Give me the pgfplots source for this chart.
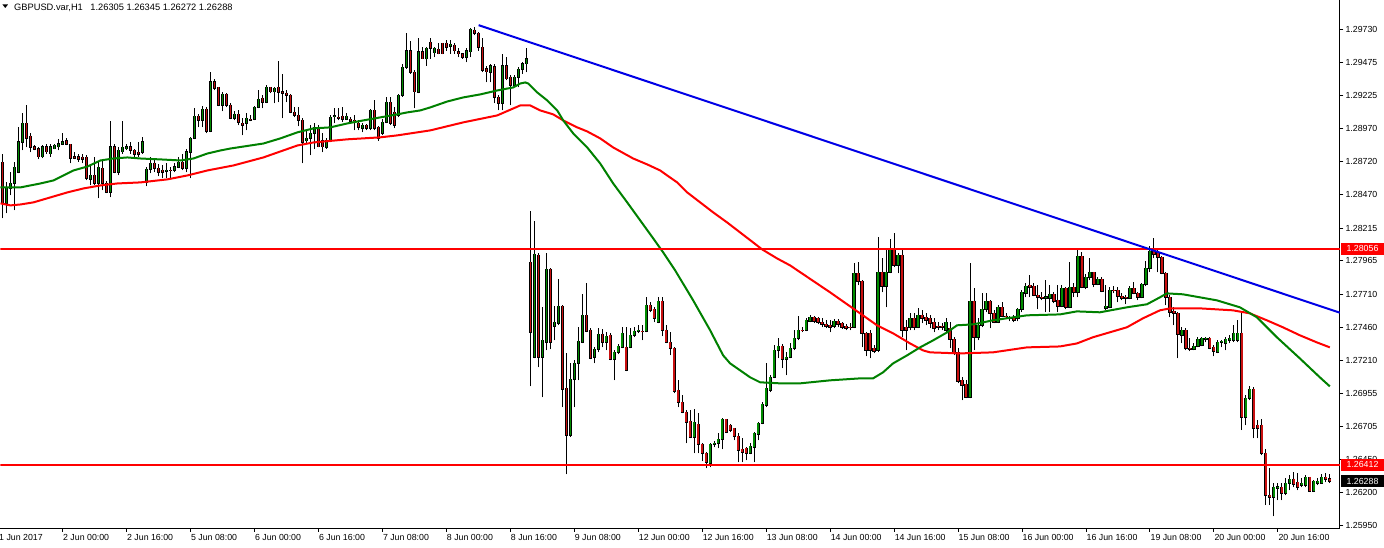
\documentclass[border=0pt]{standalone}
\usepackage{pgfplots}
\pgfplotsset{compat=1.18}
\usepackage{pgfplotstable}
\usepackage{fontspec}
\setmainfont{Liberation Sans}
\definecolor{bull}{RGB}{0,140,0}
\definecolor{bear}{RGB}{200,16,16}
\definecolor{magreen}{RGB}{0,128,0}
\definecolor{mared}{RGB}{255,0,0}
\definecolor{tline}{RGB}{0,0,230}

\pgfplotstableread{
i o h l c
0 1.28714 1.28782 1.28288 1.28402
1 1.28402 1.28562 1.28326 1.28516
2 1.28516 1.28638 1.28463 1.28554
3 1.28554 1.28714 1.28349 1.28676
4 1.28638 1.28981 1.28630 1.28873
5 1.28866 1.29087 1.28805 1.29011
6 1.29011 1.29148 1.28828 1.28897
7 1.28912 1.28935 1.28790 1.28828
8 1.28835 1.28843 1.28805 1.28813
9 1.28820 1.28828 1.28737 1.28759
10 1.28759 1.28843 1.28744 1.28835
11 1.28835 1.28851 1.28782 1.28797
12 1.28782 1.28858 1.28759 1.28835
13 1.28820 1.28851 1.28813 1.28843
14 1.28835 1.28890 1.28805 1.28858
15 1.28851 1.28935 1.28845 1.28873
16 1.28881 1.28897 1.28843 1.28851
17 1.28851 1.28858 1.28706 1.28744
18 1.28759 1.28790 1.28737 1.28744
19 1.28759 1.28782 1.28721 1.28737
20 1.28752 1.28782 1.28706 1.28737
21 1.28752 1.28767 1.28577 1.28592
22 1.28585 1.28691 1.28539 1.28615
23 1.28615 1.28752 1.28539 1.28554
24 1.28554 1.28714 1.28440 1.28676
25 1.28668 1.28729 1.28501 1.28554
26 1.28554 1.28569 1.28478 1.28486
27 1.28486 1.29026 1.28448 1.28835
28 1.28835 1.28851 1.28630 1.28638
29 1.28638 1.28828 1.28615 1.28805
30 1.28797 1.29026 1.28782 1.28828
31 1.28820 1.28858 1.28805 1.28835
32 1.28835 1.28873 1.28782 1.28805
33 1.28805 1.28820 1.28759 1.28775
34 1.28790 1.28873 1.28759 1.28775
35 1.28790 1.28905 1.28782 1.28873
36 1.28562 1.28676 1.28531 1.28661
37 1.28661 1.28752 1.28630 1.28706
38 1.28706 1.28744 1.28638 1.28668
39 1.28668 1.28699 1.28607 1.28638
40 1.28653 1.28691 1.28592 1.28638
41 1.28645 1.28706 1.28592 1.28653
42 1.28653 1.28676 1.28592 1.28650
43 1.28653 1.28706 1.28638 1.28683
44 1.28676 1.28752 1.28668 1.28714
45 1.28714 1.28782 1.28653 1.28668
46 1.28668 1.28820 1.28638 1.28797
47 1.28790 1.28905 1.28592 1.28897
48 1.28897 1.29125 1.28890 1.29064
49 1.29064 1.29080 1.28981 1.29034
50 1.29034 1.29140 1.28981 1.29118
51 1.29118 1.29133 1.28935 1.28950
52 1.28950 1.29399 1.28943 1.29330
53 1.29330 1.29346 1.29262 1.29277
54 1.29285 1.29292 1.29140 1.29148
55 1.29148 1.29247 1.29102 1.29232
56 1.29232 1.29239 1.29133 1.29148
57 1.29148 1.29163 1.29042 1.29049
58 1.29049 1.29102 1.29034 1.29080
59 1.29080 1.29110 1.28996 1.29019
60 1.29011 1.29049 1.28920 1.28996
61 1.29011 1.29087 1.28958 1.29049
62 1.29042 1.29072 1.29026 1.29034
63 1.29042 1.29140 1.29034 1.29133
64 1.29133 1.29262 1.29125 1.29194
65 1.29201 1.29224 1.29125 1.29171
66 1.29171 1.29300 1.29163 1.29285
67 1.29285 1.29292 1.29239 1.29254
68 1.29254 1.29285 1.29163 1.29277
69 1.29285 1.29490 1.29171 1.29247
70 1.29254 1.29391 1.29049 1.29239
71 1.29239 1.29262 1.29171 1.29224
72 1.29224 1.29232 1.29087 1.29095
73 1.29095 1.29133 1.29057 1.29072
74 1.29072 1.29133 1.28988 1.29034
75 1.29034 1.29049 1.28706 1.28866
76 1.28881 1.28958 1.28858 1.28897
77 1.28897 1.28996 1.28767 1.28935
78 1.28935 1.29011 1.28820 1.28981
79 1.28981 1.28996 1.28828 1.28835
80 1.28881 1.28935 1.28790 1.28835
81 1.28828 1.28897 1.28820 1.28881
82 1.28873 1.29072 1.28866 1.29057
83 1.29064 1.29125 1.29011 1.29068
84 1.29057 1.29125 1.29034 1.29052
85 1.29064 1.29133 1.29019 1.29042
86 1.29042 1.29087 1.29034 1.29064
87 1.29042 1.29057 1.29011 1.29026
88 1.29034 1.29072 1.28958 1.29030
89 1.29011 1.29034 1.28958 1.28981
90 1.28973 1.29011 1.28943 1.28996
91 1.28996 1.29004 1.28958 1.28973
92 1.28973 1.29118 1.28958 1.29110
93 1.29110 1.29186 1.28958 1.28973
94 1.28981 1.28988 1.28881 1.28897
95 1.28935 1.29042 1.28920 1.29019
96 1.29019 1.29209 1.29011 1.29171
97 1.29171 1.29209 1.28996 1.29011
98 1.29095 1.29133 1.28973 1.28996
99 1.29072 1.29232 1.29057 1.29224
100 1.29224 1.29467 1.29216 1.29437
101 1.29437 1.29696 1.29429 1.29566
102 1.29566 1.29635 1.29391 1.29399
103 1.29399 1.29414 1.29125 1.29254
104 1.29247 1.29658 1.29239 1.29558
105 1.29558 1.29590 1.29500 1.29505
106 1.29505 1.29590 1.29452 1.29582
107 1.29628 1.29658 1.29505 1.29582
108 1.29551 1.29590 1.29513 1.29582
109 1.29575 1.29620 1.29536 1.29543
110 1.29620 1.29625 1.29536 1.29543
111 1.29620 1.29643 1.29566 1.29590
112 1.29597 1.29643 1.29543 1.29613
113 1.29605 1.29620 1.29543 1.29566
114 1.29558 1.29582 1.29513 1.29543
115 1.29543 1.29551 1.29505 1.29513
116 1.29513 1.29582 1.29475 1.29566
117 1.29558 1.29734 1.29513 1.29727
118 1.29719 1.29742 1.29681 1.29696
119 1.29696 1.29704 1.29566 1.29590
120 1.29590 1.29658 1.29399 1.29414
121 1.29429 1.29452 1.29323 1.29406
122 1.29399 1.29467 1.29323 1.29452
123 1.29444 1.29467 1.29163 1.29209
124 1.29209 1.29224 1.29110 1.29163
125 1.29163 1.29543 1.29110 1.29452
126 1.29452 1.29513 1.29338 1.29353
127 1.29361 1.29376 1.29148 1.29300
128 1.29300 1.29376 1.29285 1.29361
129 1.29361 1.29437 1.29285 1.29422
130 1.29422 1.29475 1.29391 1.29467
131 1.29467 1.29582 1.29399 1.29505
132 1.27953 1.28341 1.27009 1.27421
133 1.27230 1.28265 1.27222 1.28014
134 1.28006 1.28021 1.27154 1.27230
135 1.27230 1.27611 1.26926 1.27359
136 1.27344 1.28021 1.27283 1.27900
137 1.27900 1.27908 1.27291 1.27344
138 1.27466 1.27618 1.27359 1.27497
139 1.27489 1.27824 1.27474 1.27618
140 1.27618 1.27626 1.26850 1.26987
141 1.26994 1.27260 1.26340 1.26637
142 1.26637 1.27184 1.26622 1.27063
143 1.27063 1.27207 1.26850 1.27184
144 1.27184 1.27459 1.27055 1.27351
145 1.27344 1.27710 1.27336 1.27550
146 1.27550 1.27793 1.27421 1.27428
147 1.27436 1.27451 1.27215 1.27222
148 1.27230 1.27306 1.27184 1.27291
149 1.27291 1.27451 1.27268 1.27406
150 1.27406 1.27444 1.27306 1.27344
151 1.27344 1.27421 1.27283 1.27390
152 1.27398 1.27413 1.27207 1.27215
153 1.27215 1.27283 1.27055 1.27268
154 1.27268 1.27329 1.27252 1.27313
155 1.27306 1.27459 1.27298 1.27413
156 1.27306 1.27459 1.27123 1.27131
157 1.27306 1.27451 1.27298 1.27398
158 1.27398 1.27459 1.27383 1.27428
159 1.27428 1.27474 1.27413 1.27436
160 1.27428 1.27474 1.27359 1.27425
161 1.27428 1.27687 1.27421 1.27626
162 1.27626 1.27649 1.27573 1.27588
163 1.27596 1.27611 1.27497 1.27527
164 1.27497 1.27687 1.27489 1.27656
165 1.27656 1.27687 1.27390 1.27436
166 1.27436 1.27474 1.27336 1.27344
167 1.27344 1.27421 1.27245 1.27298
168 1.27298 1.27306 1.26956 1.26971
169 1.26979 1.27055 1.26850 1.26888
170 1.26888 1.26941 1.26804 1.26812
171 1.26812 1.26827 1.26575 1.26736
172 1.26743 1.26827 1.26614 1.26622
173 1.26622 1.26835 1.26499 1.26736
174 1.26720 1.26804 1.26499 1.26568
175 1.26568 1.26575 1.26438 1.26499
176 1.26499 1.26507 1.26385 1.26431
177 1.26423 1.26575 1.26393 1.26568
178 1.26568 1.26590 1.26545 1.26575
179 1.26575 1.26652 1.26537 1.26607
180 1.26607 1.26766 1.26530 1.26758
181 1.26758 1.26762 1.26652 1.26660
182 1.26713 1.26720 1.26660 1.26675
183 1.26690 1.26695 1.26598 1.26629
184 1.26629 1.26652 1.26431 1.26522
185 1.26530 1.26614 1.26431 1.26507
186 1.26537 1.26545 1.26446 1.26499
187 1.26499 1.26575 1.26492 1.26552
188 1.26545 1.26660 1.26431 1.26652
189 1.26645 1.26736 1.26598 1.26728
190 1.26728 1.26888 1.26720 1.26873
191 1.26865 1.27184 1.26850 1.26994
192 1.26979 1.27093 1.26964 1.27078
193 1.27078 1.27321 1.27070 1.27283
194 1.27283 1.27374 1.27222 1.27313
195 1.27313 1.27329 1.27146 1.27215
196 1.27215 1.27268 1.27093 1.27230
197 1.27230 1.27336 1.27222 1.27298
198 1.27298 1.27436 1.27283 1.27374
199 1.27374 1.27543 1.27359 1.27436
200 1.27436 1.27459 1.27421 1.27432
201 1.27436 1.27527 1.27428 1.27512
202 1.27504 1.27550 1.27497 1.27535
203 1.27535 1.27543 1.27489 1.27504
204 1.27527 1.27535 1.27482 1.27497
205 1.27497 1.27527 1.27459 1.27482
206 1.27482 1.27512 1.27451 1.27466
207 1.27474 1.27512 1.27421 1.27459
208 1.27466 1.27519 1.27451 1.27504
209 1.27504 1.27519 1.27459 1.27482
210 1.27489 1.27497 1.27444 1.27459
211 1.27466 1.27482 1.27436 1.27451
212 1.27459 1.27489 1.27436 1.27455
213 1.27459 1.27945 1.27451 1.27869
214 1.27869 1.27953 1.27778 1.27808
215 1.27808 1.27816 1.27306 1.27413
216 1.27413 1.27421 1.27237 1.27283
217 1.27413 1.27436 1.27222 1.27283
218 1.27298 1.27321 1.27260 1.27276
219 1.27283 1.28144 1.27268 1.27877
220 1.27877 1.27983 1.27725 1.27770
221 1.27770 1.28059 1.27611 1.27877
222 1.27877 1.28128 1.27869 1.28044
223 1.28044 1.28174 1.27915 1.27930
224 1.27930 1.28021 1.27869 1.28006
225 1.28006 1.28044 1.27383 1.27436
226 1.27459 1.27512 1.27283 1.27436
227 1.27459 1.27565 1.27436 1.27527
228 1.27527 1.27565 1.27436 1.27459
229 1.27459 1.27603 1.27451 1.27550
230 1.27550 1.27588 1.27489 1.27527
231 1.27535 1.27565 1.27474 1.27512
232 1.27527 1.27550 1.27451 1.27489
233 1.27497 1.27527 1.27421 1.27451
234 1.27466 1.27497 1.27436 1.27459
235 1.27466 1.27489 1.27436 1.27459
236 1.27436 1.27527 1.27421 1.27497
237 1.27451 1.27497 1.27298 1.27367
238 1.27367 1.27383 1.27245 1.27268
239 1.27268 1.27298 1.27032 1.27047
240 1.27055 1.27078 1.26903 1.27017
241 1.27025 1.27055 1.26918 1.26926
242 1.26926 1.27945 1.26918 1.27656
243 1.27656 1.27755 1.27283 1.27383
244 1.27383 1.27527 1.27359 1.27474
245 1.27474 1.27717 1.27459 1.27596
246 1.27596 1.27717 1.27573 1.27656
247 1.27656 1.27664 1.27451 1.27565
248 1.27565 1.27588 1.27489 1.27497
249 1.27497 1.27626 1.27489 1.27611
250 1.27611 1.27649 1.27535 1.27543
251 1.27543 1.27565 1.27527 1.27538
252 1.27527 1.27543 1.27504 1.27523
253 1.27527 1.27550 1.27497 1.27512
254 1.27527 1.27603 1.27504 1.27596
255 1.27596 1.27740 1.27573 1.27725
256 1.27717 1.27793 1.27687 1.27770
257 1.27778 1.27854 1.27687 1.27763
258 1.27770 1.27793 1.27694 1.27702
259 1.27702 1.27778 1.27596 1.27687
260 1.27687 1.27725 1.27664 1.27679
261 1.27679 1.27816 1.27573 1.27690
262 1.27679 1.27778 1.27573 1.27710
263 1.27710 1.27725 1.27641 1.27656
264 1.27664 1.27778 1.27573 1.27618
265 1.27618 1.27778 1.27611 1.27755
266 1.27755 1.27763 1.27596 1.27611
267 1.27611 1.27953 1.27603 1.27763
268 1.27763 1.27793 1.27687 1.27725
269 1.27725 1.28052 1.27687 1.27998
270 1.27998 1.28029 1.27755 1.27763
271 1.27763 1.27862 1.27748 1.27839
272 1.27839 1.27983 1.27816 1.27877
273 1.27877 1.27880 1.27763 1.27786
274 1.27786 1.27839 1.27778 1.27824
275 1.27824 1.27839 1.27725 1.27732
276 1.27603 1.27778 1.27588 1.27618
277 1.27611 1.27763 1.27603 1.27740
278 1.27740 1.27770 1.27717 1.27736
279 1.27740 1.27763 1.27649 1.27694
280 1.27694 1.27717 1.27664 1.27679
281 1.27687 1.27702 1.27634 1.27679
282 1.27679 1.27770 1.27672 1.27755
283 1.27755 1.27801 1.27710 1.27717
284 1.27717 1.27725 1.27664 1.27687
285 1.27687 1.27793 1.27679 1.27786
286 1.27786 1.27960 1.27770 1.27907
287 1.27907 1.28075 1.27877 1.28036
288 1.28044 1.28135 1.27983 1.28014
289 1.28029 1.28059 1.27877 1.27991
290 1.27991 1.27998 1.27862 1.27872
291 1.27869 1.27877 1.27626 1.27687
292 1.27687 1.27702 1.27535 1.27573
293 1.27580 1.27611 1.27474 1.27565
294 1.27565 1.27573 1.27222 1.27406
295 1.27398 1.27459 1.27336 1.27436
296 1.27436 1.27451 1.27283 1.27298
297 1.27298 1.27374 1.27276 1.27291
298 1.27291 1.27336 1.27283 1.27313
299 1.27313 1.27383 1.27306 1.27367
300 1.27321 1.27383 1.27313 1.27374
301 1.27367 1.27383 1.27344 1.27374
302 1.27374 1.27383 1.27291 1.27298
303 1.27306 1.27321 1.27237 1.27276
304 1.27268 1.27359 1.27260 1.27344
305 1.27344 1.27359 1.27306 1.27351
306 1.27336 1.27383 1.27283 1.27367
307 1.27359 1.27398 1.27336 1.27374
308 1.27359 1.27474 1.27344 1.27413
309 1.27359 1.27512 1.27344 1.27413
310 1.27413 1.27573 1.26675 1.26774
311 1.26774 1.26941 1.26713 1.26918
312 1.26918 1.27009 1.26903 1.26987
313 1.26987 1.27002 1.26614 1.26690
314 1.26713 1.26751 1.26614 1.26690
315 1.26713 1.26758 1.26484 1.26499
316 1.26499 1.26530 1.26104 1.26180
317 1.26180 1.26385 1.26104 1.26165
318 1.26165 1.26271 1.26020 1.26241
319 1.26233 1.26271 1.26142 1.26245
320 1.26241 1.26271 1.26142 1.26195
321 1.26195 1.26309 1.26180 1.26271
322 1.26271 1.26332 1.26218 1.26302
323 1.26302 1.26355 1.26241 1.26264
324 1.26279 1.26347 1.26218 1.26241
325 1.26256 1.26309 1.26241 1.26271
326 1.26256 1.26332 1.26241 1.26317
327 1.26317 1.26320 1.26203 1.26210
328 1.26210 1.26294 1.26203 1.26286
329 1.26271 1.26309 1.26256 1.26286
330 1.26271 1.26340 1.26266 1.26317
331 1.26317 1.26347 1.26279 1.26302
332 1.26305 1.26345 1.26272 1.26288
}\candles

\begin{document}
\begin{tikzpicture}[x=1pt,y=1pt]
\begin{axis}[
  at={(0,0)}, anchor=south west,
  scale only axis, width=1340pt, height=528pt,
  xmin=-0.5, xmax=334.5, ymin=1.25929, ymax=1.29947,
  axis x line*=bottom, axis y line*=right,
  axis line style={black, line width=1pt},
  tick align=outside, major tick length=3.5pt,
  tick style={black, line width=0.9pt},
  ticklabel style={font=\fontsize{8.8}{10}\selectfont, text=black},
  xtick={15,31,...,319},
  xticklabels={2 Jun 00:00,2 Jun 16:00,5 Jun 08:00,6 Jun 00:00,6 Jun 16:00,7 Jun 08:00,8 Jun 00:00,8 Jun 16:00,9 Jun 08:00,12 Jun 00:00,12 Jun 16:00,13 Jun 08:00,14 Jun 00:00,14 Jun 16:00,15 Jun 08:00,16 Jun 00:00,16 Jun 16:00,19 Jun 08:00,20 Jun 00:00,20 Jun 16:00},
  ytick={1.29730,1.29475,1.29225,1.28970,1.28720,1.28470,1.28215,1.27965,1.27710,1.27460,1.27210,1.26955,1.26705,1.26450,1.26200,1.25950},
  yticklabels={1.29730,1.29475,1.29225,1.28970,1.28720,1.28470,1.28215,1.27965,1.27710,1.27460,1.27210,1.26955,1.26705,1.26450,1.26200,1.25950},
  xticklabel style={anchor=north west, inner sep=0pt, xshift=0.5pt, yshift=-2pt},
  yticklabel style={anchor=west, inner sep=0pt, xshift=2pt},
]
% wicks: segment from low to high
\addplot[forget plot, black, line width=1pt, quiver={u=0, v=\thisrow{h}-\thisrow{l}}]
  table[x=i, y=l] {\candles};
% body outlines: segment from open to close
\addplot[forget plot, black, line width=3.2pt, shorten <=-0.5pt, shorten >=-0.5pt,
  quiver={u=0, v=\thisrow{c}-\thisrow{o}}]
  table[x=i, y=o] {\candles};
% bull bodies
\addplot[forget plot, bull, line width=1.4pt,
  restrict expr to domain={\thisrow{c}-\thisrow{o}}{0.00002:1},
  quiver={u=0, v=\thisrow{c}-\thisrow{o}}]
  table[x=i, y=o] {\candles};
% bear bodies
\addplot[forget plot, bear, line width=1.4pt,
  restrict expr to domain={\thisrow{o}-\thisrow{c}}{0.00002:1},
  quiver={u=0, v=\thisrow{c}-\thisrow{o}}]
  table[x=i, y=o] {\candles};

% slow moving average (red)
\addplot[mared, line width=2pt, forget plot] coordinates {
(-0.5,1.28402) (2,1.28387) (4.5,1.28394) (7.75,1.28410) (12,1.28448) (16.25,1.28486)
(20.25,1.28516) (24.5,1.28539) (28.75,1.28554) (34.5,1.28562) (41.25,1.28585) (46.25,1.28615)
(51.25,1.28653) (57.75,1.28691) (65.25,1.28752) (73.75,1.28843) (77.75,1.28866) (86.25,1.28890)
(94.5,1.28905) (98.75,1.28920) (107,1.28958) (115.25,1.29019) (123.75,1.29072) (129.5,1.29148)
(132,1.29148) (134.5,1.29110) (137.75,1.29080) (140.25,1.29034) (143.75,1.28981) (146.25,1.28950)
(149.5,1.28897) (152.75,1.28828) (157.75,1.28744) (161.25,1.28699) (164.5,1.28653) (166.25,1.28615)
(168.75,1.28562) (171.25,1.28486) (174.5,1.28410) (177.75,1.28334) (181.25,1.28257) (184.5,1.28181)
(187.75,1.28105) (190,1.28052) (193.75,1.27983) (197,1.27930) (207,1.27725) (214.5,1.27565)
(218.75,1.27474) (222.75,1.27413) (227,1.27336) (230.25,1.27283) (232,1.27268) (239.5,1.27260)
(247.75,1.27268) (256.25,1.27306) (264.5,1.27313) (268.75,1.27336) (272.75,1.27383) (277,1.27421)
(281.25,1.27459) (285.25,1.27527) (289.5,1.27588) (292,1.27603) (299.5,1.27603) (307.75,1.27588)
(312,1.27565) (316.25,1.27512) (320.25,1.27459) (324.5,1.27398) (328.75,1.27344) (332,1.27306)
};
% fast moving average (green)
\addplot[magreen, line width=2pt, forget plot] coordinates {
(-0.5,1.28524) (4.5,1.28524) (9.5,1.28554) (12.75,1.28577) (15.25,1.28615) (17.75,1.28653)
(21.25,1.28683) (24.5,1.28729) (27.75,1.28744) (31.25,1.28752) (34.5,1.28744) (39.5,1.28737)
(44.5,1.28729) (47.75,1.28744) (51.25,1.28782) (54.5,1.28805) (57,1.28820) (65.25,1.28858)
(69.5,1.28897) (73.75,1.28943) (77.75,1.28973) (82,1.28981) (86.25,1.29011) (90.25,1.29034)
(94.5,1.29057) (98.75,1.29080) (101.25,1.29095) (104.5,1.29110) (107,1.29133) (111.25,1.29178)
(115.25,1.29209) (119.5,1.29232) (123.75,1.29262) (127.75,1.29285) (129.5,1.29315) (130.75,1.29323)
(131.5,1.29315) (133.75,1.29247) (136.25,1.29186) (138.75,1.29110) (140.25,1.29034) (142.75,1.28935)
(146.25,1.28828) (149.5,1.28706) (152.75,1.28554) (156.25,1.28410) (159.5,1.28273) (162.75,1.28136)
(165.25,1.28029) (168.25,1.27892) (172.75,1.27664) (177,1.27436) (180.25,1.27245) (182,1.27184)
(184.5,1.27131) (187,1.27078) (189.5,1.27040) (194.5,1.27032) (199.5,1.27032) (207,1.27055)
(214.5,1.27070) (217.75,1.27070) (220.25,1.27116) (222.75,1.27184) (226.25,1.27245) (229.5,1.27306)
(232.75,1.27359) (236.25,1.27420) (238.75,1.27474) (242.75,1.27481) (247.75,1.27512) (256.25,1.27550)
(264.5,1.27557) (268.75,1.27580) (274.5,1.27573)
(281.25,1.27611) (286.25,1.27634) (289.5,1.27687) (291.25,1.27717) (295.25,1.27710) (303.75,1.27664)
(309.5,1.27611) (313.75,1.27535) (318.75,1.27383) (324.5,1.27222) (329.5,1.27078) (332,1.27009)
};
% horizontal levels
\addplot[mared, line width=1.8pt, forget plot] coordinates {(-0.5,1.28056) (334.5,1.28056)};
\addplot[mared, line width=1.8pt, forget plot] coordinates {(-0.5,1.26412) (334.5,1.26412)};
% trend line
\addplot[tline, line width=2pt, forget plot] coordinates {(119.1,1.29759) (334.5,1.27570)};

\coordinate (b1) at (axis cs:334.5,1.28056);
\coordinate (b2) at (axis cs:334.5,1.26412);
\coordinate (b3) at (axis cs:334.5,1.26288);
\end{axis}

% price boxes
\node[fill=mared, text=white, inner sep=0pt, minimum width=43pt, minimum height=11.5pt, anchor=west,
  font=\fontsize{8.8}{10}\selectfont] at ([xshift=1pt]b1) {1.28056};
\node[fill=mared, text=white, inner sep=0pt, minimum width=43pt, minimum height=11.5pt, anchor=west,
  font=\fontsize{8.8}{10}\selectfont] at ([xshift=1pt]b2) {1.26412};
\node[fill=black, text=white, inner sep=0pt, minimum width=43pt, minimum height=11.5pt, anchor=west,
  font=\fontsize{8.8}{10}\selectfont] at ([xshift=1pt]b3) {1.26288};

% title
\fill (2,524) -- (7.5,524) -- (4.75,520.5) -- cycle;
\node[anchor=base west, inner sep=0pt, font=\fontsize{9.3}{10}\selectfont]
  at (13.5,517.5) {GBPUSD.var,H1\hspace{5pt} 1.26305 1.26345 1.26272 1.26288};
% first date label
\node[overlay, anchor=north west, inner sep=0pt, font=\fontsize{8.8}{10}\selectfont]
  at (-1.5,-5.5) {1 Jun 2017};
% page frame
\path (0,-19) rectangle (1384,528);
\end{tikzpicture}
\end{document}
